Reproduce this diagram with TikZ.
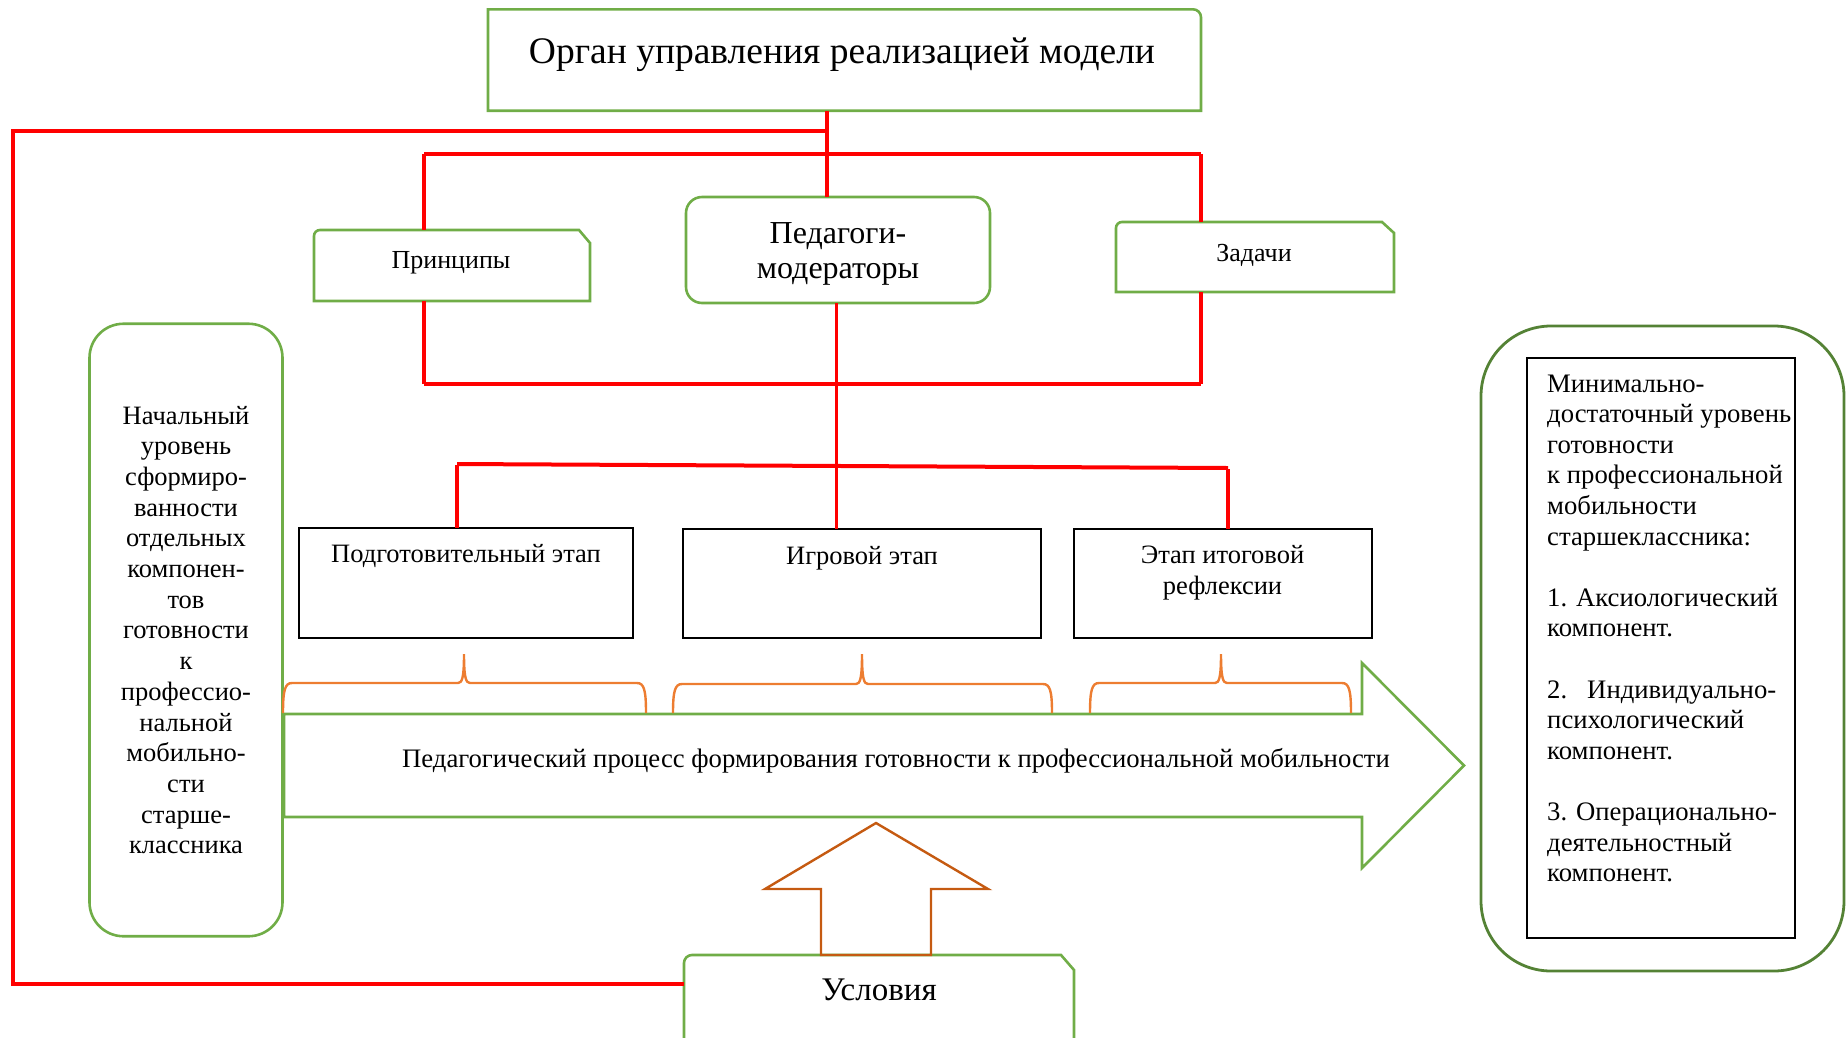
\documentclass[tikz,border=0pt]{standalone}
\usepackage{fontspec}
\setmainfont{Liberation Serif}
\definecolor{gr}{HTML}{70AD47}
\definecolor{dg}{HTML}{548235}
\definecolor{rd}{HTML}{FF0000}
\definecolor{orb}{HTML}{ED7D31}
\definecolor{ora}{HTML}{C55A11}
\newcommand{\mlc}[1]{\begin{tabular}[t]{@{}c@{}}#1\end{tabular}}
\newcommand{\mll}[1]{\begin{tabular}[t]{@{}l@{}}#1\end{tabular}}
\begin{document}
\begin{tikzpicture}[x=1pt,y=-1pt,
  slot/.style={inner sep=0pt, outer sep=0pt},
  gline/.style={draw=gr, line width=2.6pt},
  blk/.style={slot, draw=black, line width=1.3pt},
  redl/.style={draw=rd, line width=3.2pt},
  redt/.style={draw=rd, line width=4pt},
  brc/.style={draw=orb, line width=2.4pt},
  txt/.style={inner sep=0pt, anchor=base}]
\useasboundingbox (0,0) rectangle (1847,1037);
\clip (0,0) rectangle (1847,1037);

% ---------- box slots ----------
\node[slot, minimum width=713pt, minimum height=101.4pt] (org) at (844.5,60) {};
\node[slot, minimum width=276pt, minimum height=71pt] (pri) at (452,265.5) {};
\node[slot, gline, rounded corners=16pt, minimum width=304pt, minimum height=106pt] (ped) at (838,250) {};
\node[slot, minimum width=278pt, minimum height=70pt] (zad) at (1255,257) {};
\node[slot, gline, rounded corners=34pt, minimum width=193pt, minimum height=612.5pt] (lbox) at (186,630) {};
\node[blk, minimum width=334pt, minimum height=110pt] (pod) at (466,583) {};
\node[blk, minimum width=358pt, minimum height=109pt] (igr) at (862,583.5) {};
\node[blk, minimum width=298pt, minimum height=109pt] (ref) at (1223,583.5) {};
\node[slot, draw=dg, line width=2.8pt, rounded corners=70pt, minimum width=363pt, minimum height=645pt] (rbox) at (1662.5,648.5) {};
\node[blk, minimum width=268pt, minimum height=580pt] (inner) at (1661,648) {};
\node[slot, minimum width=390pt, minimum height=110pt] (usl) at (879,1010) {};
\node[slot, minimum width=1180pt, minimum height=103pt] (proc) at (874,765.5) {};

% ---------- custom frames ----------
\draw[gline] (org.south west) -- (org.north west) -- ([xshift=-8pt]org.north east)
  arc[start angle=90,end angle=0,radius=8pt] -- (org.south east) -- cycle;
\draw[gline] (pri.south west) -- ([yshift=-6pt]pri.north west)
  arc[start angle=180,end angle=90,radius=6pt] -- ([xshift=-11pt]pri.north east)
  -- ([yshift=-13pt]pri.north east) -- (pri.south east) -- cycle;
\draw[gline] (zad.south west) -- ([yshift=-6pt]zad.north west)
  arc[start angle=180,end angle=90,radius=6pt] -- ([xshift=-12pt]zad.north east)
  -- ([yshift=-11pt]zad.north east) -- (zad.south east) -- cycle;
\draw[gline] (usl.south west) -- ([yshift=-8pt]usl.north west)
  arc[start angle=180,end angle=90,radius=8pt] -- ([xshift=-13pt]usl.north east)
  -- ([yshift=-15pt]usl.north east) -- (usl.south east) -- cycle;

% big process arrow
\draw[gline] (proc.north west) -- (1362,714) -- (1362,663) -- (proc.east)
  -- (1362,868) -- (1362,817) -- (proc.south west) -- cycle;

% up arrow (conditions)
\draw[draw=ora, line width=2.4pt, line join=miter] (876,823) -- (988,889) -- (931,889)
  -- (931,955) -- (821,955) -- (821,889) -- (765,889) -- cycle;

% ---------- braces ----------
\draw[brc] (283,713) .. controls (283,690) and (285,683) .. (292,683) -- (458,683)
  .. controls (462,683) and (464,678) .. (464,654) .. controls (464,678) and (466,683) .. (470,683)
  -- (637,683) .. controls (644,683) and (646,690) .. (646,713);
\draw[brc] (673,713) .. controls (673,691) and (675,684) .. (682,684) -- (856,684)
  .. controls (860,684) and (862,679) .. (862,654) .. controls (862,679) and (864,684) .. (868,684)
  -- (1043,684) .. controls (1050,684) and (1052,691) .. (1052,713);
\draw[brc] (1090,713) .. controls (1090,690) and (1092,683) .. (1099,683) -- (1215,683)
  .. controls (1219,683) and (1221,678) .. (1221,654) .. controls (1221,678) and (1223,683) .. (1227,683)
  -- (1342,683) .. controls (1349,683) and (1351,690) .. (1351,713);

% ---------- red connectors ----------
\coordinate (j1) at (827,131);
\coordinate (lb) at (13,984);
\coordinate (cP) at (424,154);
\coordinate (cZ) at (1201,154);
\coordinate (cP2) at (424,384);
\coordinate (cZ2) at (1201,384);
\coordinate (cM) at (836.5,384);
\coordinate (cL) at (457,464);
\coordinate (cR) at (1228,468);

\draw[redl] (org.south -| j1) -- (ped.north -| j1);
\draw[redt, line join=miter] (j1) -| (lb) -- (lb -| usl.west);
\draw[redt] (cP) -- (cZ);
\draw[redl] (cP) -- (pri.north -| cP);
\draw[redl] (cZ) -- (zad.north -| cZ);
\draw[redl] (pri.south -| cP2) -- (cP2);
\draw[redl] (zad.south -| cZ2) -- (cZ2);
\draw[redt] (cP2) -- (cZ2);
\draw[redl] (ped.south -| cM) -- (igr.north -| cM);
\draw[redt] (cL) -- (cR);
\draw[redl] ([yshift=-1pt]cL) -- (pod.north -| cL);
\draw[redl] ([yshift=-1pt]cR) -- (ref.north -| cR);

% ---------- texts ----------
\node[txt, font=\fontsize{37.5}{44}\selectfont] (orgt) at (842,63.5) {Орган управления реализацией модели};
\node[txt, font=\fontsize{32}{35.5}\selectfont] (pedt) at (838,243) {\mlc{Педагоги-\\модераторы}};
\node[txt, font=\fontsize{26}{31}\selectfont] (prit) at (451,268) {Принципы};
\node[txt, font=\fontsize{26}{31}\selectfont] (zadt) at (1254,261) {Задачи};
\node[txt, font=\fontsize{26.5}{31}\selectfont] (podt) at (466,562.7) {Подготовительный этап};
\node[txt, font=\fontsize{26.5}{31}\selectfont] (igrt) at (862,564) {Игровой этап};
\node[txt, font=\fontsize{26.5}{31}\selectfont] (reft) at (1222.5,563) {\mlc{Этап итоговой\\рефлексии}};
\node[txt, font=\fontsize{26.7}{31}\selectfont] (proct) at (896,767) {Педагогический процесс формирования готовности к профессиональной мобильности};
\node[txt, font=\fontsize{33}{36}\selectfont] (uslt) at (879,1000) {Условия};
\node[txt, font=\fontsize{26.5}{30.7}\selectfont] (lboxt) at (186,424) {\mlc{Начальный\\уровень\\сформиро-\\ванности\\отдельных\\компонен-\\тов\\готовности\\к\\профессио-\\нальной\\мобильно-\\сти\\старше-\\классника}};
\node[txt, font=\fontsize{26.7}{30.6}\selectfont, anchor=base west] (innert) at (1547,392) {\mll{Минимально-\\достаточный уровень\\готовности\\к профессиональной\\мобильности\\старшеклассника:\\ \\1. Аксиологический\\компонент.\\ \\2.\hspace{20pt}Индивидуально-\\психологический\\компонент.\\ \\3. Операционально-\\деятельностный\\компонент.}};
\end{tikzpicture}
\end{document}
